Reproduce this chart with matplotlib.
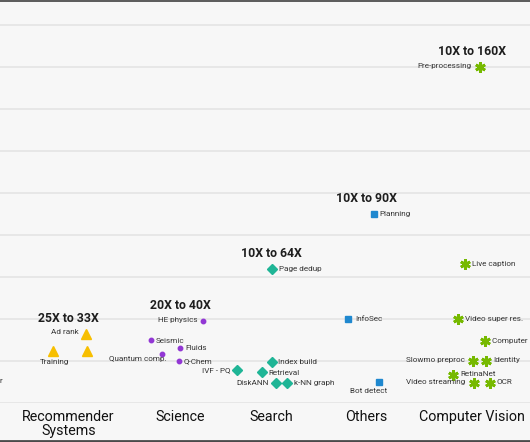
import matplotlib
matplotlib.use("Agg")
import matplotlib.pyplot as plt
from matplotlib.lines import Line2D

# ---------------- data ----------------
categories = ["Recommender\nSystems", "Science", "Search", "Others", "Computer Vision"]
category_x = [0.685, 1.802, 2.712, 3.662, 4.723]
ranges = ["25X to 33X", "20X to 40X", "10X to 64X", "10X to 90X", "10X to 160X"]

rec_names = ["Ad rank", "Training", ""]
rec_x = [0.857, 0.527, 0.873]
rec_y = [33, 25, 25]

sci_names = ["HE physics", "Seismic", "Fluids", "Quantum comp.", "Q-Chem"]
sci_x = [2.027, 1.507, 1.803, 1.623, 1.790]
sci_y = [39, 30, 26, 23.5, 20]

search_names = ["Page dedup", "IVF - PQ", "Index build", "Retrieval", "DiskANN", "k-NN graph"]
search_x = [2.723, 2.367, 2.717, 2.623, 2.757, 2.873]
search_y = [64, 15.7, 19.7, 14.8, 9.7, 9.7]

other_names = ["Planning", "InfoSec", "Bot detect"]
other_x = [3.743, 3.480, 3.787]
other_y = [90, 40, 10]

cv_names = ["Pre-processing", "Live caption", "Video super res.", "Computer graphics",
            "Slowmo preproc", "Identity", "RetinaNet", "Video streaming", "OCR"]
cv_x = [4.800, 4.650, 4.577, 4.853, 4.730, 4.863, 4.527, 4.737, 4.900]
cv_y = [160, 66, 40, 29.4, 20, 20, 13.3, 9.7, 9.7]

y_ticks = [0, 20, 40, 60, 80, 100, 120, 140, 160, 180]

# ---------------- style ----------------
plt.rcParams["font.family"] = ["Roboto", "DejaVu Sans"]
BG = "#f7f7f7"
TXT = "#1e1e1e"
LBL = "#363636"

fig = plt.figure(figsize=(5.30, 4.42), dpi=100, facecolor=BG)
ax = fig.add_axes([0, 39 / 442, 1, 403 / 442])
ax.set_facecolor(BG)
ax.set_xlim(0, 5.30)
ax.set_ylim(0, 403 / 2.1)
ax.set_yticks(y_ticks)
ax.set_yticklabels([])
ax.tick_params(axis="y", length=0)
ax.grid(axis="y", color="#e6e6e6", linewidth=1.3)
ax.set_axisbelow(True)
for s in ax.spines.values():
    s.set_visible(False)
ax.set_xticks(category_x)
ax.set_xticklabels(categories, fontsize=10.3, color="#111111", linespacing=1.0, va="top")
ax.tick_params(axis="x", length=0, pad=5)

series = [
    (rec_names, rec_x, rec_y, dict(marker="^", ms=7, color="#f7bf00", mec="#f7bf00")),
    (sci_names, sci_x, sci_y, dict(marker="o", ms=3.2, color="#9237d4", mec="#9237d4")),
    (search_names, search_x, search_y, dict(marker="D", ms=5.2, color="#1fb596", mec="#1fb596")),
    (other_names, other_x, other_y, dict(marker="s", ms=4.2, color="#1f88cf", mec="#1f88cf")),
    (cv_names, cv_x, cv_y, dict(marker=(6, 2, 0), ms=7.5, mew=2.0, color="#76b900", mec="#76b900")),
]
for names, xs, ys, st in series:
    ax.plot(xs, ys, linestyle="none", clip_on=False, zorder=3, **st)

# label placement: (dx points, dy points, ha, va)
place = {
    "Ad rank": (-5, 1, "right", "center"),
    "Training": (1, -8.5, "center", "center"),
    "HE physics": (-4, 0.5, "right", "center"),
    "Seismic": (3.5, -0.5, "left", "center"),
    "Fluids": (3.5, 0, "left", "center"),
    "Quantum comp.": (3, -4, "right", "center"),
    "Q-Chem": (3.5, 0, "left", "center"),
    "Page dedup": (4.5, 0, "left", "center"),
    "IVF - PQ": (-4.5, 0, "right", "center"),
    "Index build": (4.5, 0, "left", "center"),
    "Retrieval": (4.5, -0.5, "left", "center"),
    "DiskANN": (-5, 0, "right", "center"),
    "k-NN graph": (4.5, 0, "left", "center"),
    "Planning": (4, 0, "left", "center"),
    "InfoSec": (5, 0, "left", "center"),
    "Bot detect": (-7, -6.5, "center", "center"),
    "Pre-processing": (-6, 0.5, "right", "center"),
    "Live caption": (5, 0.5, "left", "center"),
    "Video super res.": (5, 0, "left", "center"),
    "Computer graphics": (5, 0, "left", "center"),
    "Slowmo preproc": (-6, 0.5, "right", "center"),
    "Identity": (5, 0.5, "left", "center"),
    "RetinaNet": (5.5, 1.0, "left", "center"),
    "Video streaming": (-6, 0.5, "right", "center"),
    "OCR": (5, 0.5, "left", "center"),
}
for names, xs, ys, st in series:
    for n, x, y in zip(names, xs, ys):
        if not n:
            continue
        dx, dy, ha, va = place[n]
        ax.annotate(n, (x, y), xytext=(dx, dy), textcoords="offset points",
                    ha=ha, va=va, fontsize=5.9, color=LBL, zorder=4)

# range headers
maxima = [max(rec_y), max(sci_y), max(search_y), max(other_y), max(cv_y)]
for cx, m, r in zip(category_x, maxima, ranges):
    ax.annotate(r, (cx, m), xytext=(0, 11), textcoords="offset points",
                ha="center", va="center", fontsize=8.8, fontweight="bold", color=TXT)

# cut-off label at the left edge
ax.annotate("Other", (0, 10.5), xytext=(2, 0), textcoords="offset points",
            ha="right", va="center", fontsize=5.9, color=LBL)

# dark frame lines at top and bottom of the crop
fig.add_artist(Line2D([0, 1], [1 - 0.7 / 442, 1 - 0.7 / 442], transform=fig.transFigure,
                      color="#5a5a5a", linewidth=1.4))
fig.add_artist(Line2D([0, 1], [1.2 / 442, 1.2 / 442], transform=fig.transFigure,
                      color="#4a4a4a", linewidth=2.0))

fig.savefig("out.png", dpi=100, facecolor=BG)
